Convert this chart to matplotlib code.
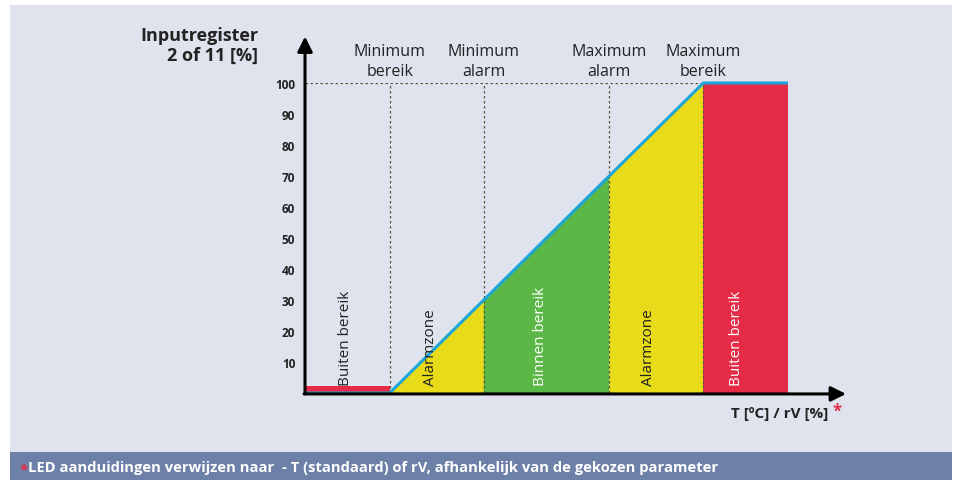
import matplotlib
matplotlib.use("Agg")
import matplotlib.pyplot as plt
from matplotlib.patches import Rectangle, Polygon

# ---- data ----
x_min_bereik = 0
x_min_alarm = 30
x_max_alarm = 70
x_max_bereik = 100
x_end = 127
x_start = -27
low_bar_height = 2.4
y_ticks = [10, 20, 30, 40, 50, 60, 70, 80, 90, 100]
top_labels = ["Minimum\nbereik", "Minimum\nalarm", "Maximum\nalarm", "Maximum\nbereik"]
top_label_x = [x_min_bereik, x_min_alarm, x_max_alarm, x_max_bereik]
zone_labels = ["Buiten bereik", "Alarmzone", "Binnen bereik", "Alarmzone", "Buiten bereik"]
zone_label_x = [-14, 13, 48, 82.5, 110.5]
zone_label_color = ["#222222", "#222222", "white", "#222222", "white"]

RED = "#e52b45"
YEL = "#e8dc1a"
GRN = "#5bb847"
BLUE = "#1ea5d8"
BG = "#dee3ee"
FOOT = "#6c80a8"
DOT = "#5a5538"

W, H = 957, 481
fig = plt.figure(figsize=(W/100, H/100), dpi=100)
fig.patch.set_facecolor("white")
fig.patches.append(Rectangle((10/W, (H-453)/H), 942/W, 447/H, transform=fig.transFigure,
                             facecolor=BG, edgecolor="none", zorder=-10))
fig.patches.append(Rectangle((10/W, 0), 942/W, (H-453)/H, transform=fig.transFigure,
                             facecolor=FOOT, edgecolor="none", zorder=-10))

# axes: x -27..127 -> px 305..788 ; y 0..100 -> px 394..84
ax_l, ax_r = 305, 788
ax_b, ax_t = 394, 84
ax = fig.add_axes([ax_l/W, (H-ax_b)/H, (ax_r-ax_l)/W, (ax_b-ax_t)/H])
ax.set_xlim(x_start, x_end)
ax.set_ylim(0, 100)
ax.patch.set_alpha(0)
for s in ax.spines.values():
    s.set_visible(False)
ax.set_xticks([])
ax.set_yticks(y_ticks)
ax.set_yticklabels([str(v) for v in y_ticks], fontsize=8.5, fontweight="bold", color="#222222",
                   family="Open Sans")
ax.tick_params(axis="y", length=0, pad=7)

# fills
ax.add_patch(Rectangle((x_start, 0), x_min_bereik - x_start, low_bar_height, facecolor=RED, edgecolor="none"))
ax.add_patch(Polygon([(x_min_bereik, 0), (x_min_alarm, 0), (x_min_alarm, x_min_alarm)], closed=True,
                     facecolor=YEL, edgecolor="none"))
ax.add_patch(Polygon([(x_min_alarm, 0), (x_max_alarm, 0), (x_max_alarm, x_max_alarm), (x_min_alarm, x_min_alarm)],
                     closed=True, facecolor=GRN, edgecolor="none"))
ax.add_patch(Polygon([(x_max_alarm, 0), (x_max_bereik, 0), (x_max_bereik, x_max_bereik), (x_max_alarm, x_max_alarm)],
                     closed=True, facecolor=YEL, edgecolor="none"))
ax.add_patch(Rectangle((x_max_bereik, 0), x_end - x_max_bereik, 100, facecolor=RED, edgecolor="none"))

# dotted guide lines
ax.plot([x_start, x_max_bereik], [100, 100], linestyle=(0, (2, 2)), color=DOT, lw=0.9, zorder=3)
for xv in [x_min_bereik, x_min_alarm, x_max_alarm, x_max_bereik, x_end]:
    ax.plot([xv, xv], [0, 100], linestyle=(0, (2, 2)), color=DOT, lw=0.9, zorder=3)

# blue characteristic line
ax.plot([x_start, x_min_bereik, x_max_bereik, x_end], [0, 0, 100, 100], color=BLUE, lw=2.2,
        zorder=5, solid_capstyle="butt", clip_on=False)

# axes arrows
ax.annotate("", xy=(x_start, 115), xytext=(x_start, -0.3), xycoords="data",
            arrowprops=dict(arrowstyle="-|>,head_length=0.9,head_width=0.45", color="black", lw=2.2,
                            shrinkA=0, shrinkB=0), annotation_clip=False, zorder=6)
ax.annotate("", xy=(145.5, -0.3), xytext=(x_start - 0.3, -0.3), xycoords="data",
            arrowprops=dict(arrowstyle="-|>,head_length=0.9,head_width=0.45", color="black", lw=2.2,
                            shrinkA=0, shrinkB=0), annotation_clip=False, zorder=6)

# top labels
for lbl, xv in zip(top_labels, top_label_x):
    ax.text(xv, 101.2, lbl, ha="center", va="bottom", fontsize=11.5, color="#222222",
            family="Open Sans", linespacing=1.35, clip_on=False)

# zone labels
for lbl, xv, c in zip(zone_labels, zone_label_x, zone_label_color):
    ax.text(xv, 2.5, lbl, rotation=90, ha="center", va="bottom", fontsize=11, color=c,
            family="Open Sans", zorder=7)

# y title
fig.text(258/W, 1 - 27/H, "Inputregister\n2 of 11 [%]", ha="right", va="top", fontsize=13,
         fontweight="bold", color="#222222", family="Open Sans", linespacing=1.1)

# x label
fig.text(828/W, 1 - 414/H, "T [ºC] / rV [%]", ha="right", va="center", fontsize=11,
         fontweight="bold", color="#222222", family="Open Sans")
fig.text(832/W, 1 - 412/H, "*", ha="left", va="center", fontsize=12,
         fontweight="bold", color=RED, family="Open Sans")

# footer
fig.text(20/W, 1 - 470/H, "*", ha="left", va="center", fontsize=11, fontweight="bold",
         color=RED, family="Open Sans")
fig.text(28/W, 1 - 468/H, "LED aanduidingen verwijzen naar  - T (standaard) of rV, afhankelijk van de gekozen parameter",
         ha="left", va="center", fontsize=10.6, fontweight="bold", color="white", family="Open Sans")

fig.savefig("out.png", dpi=100, facecolor=fig.get_facecolor())
